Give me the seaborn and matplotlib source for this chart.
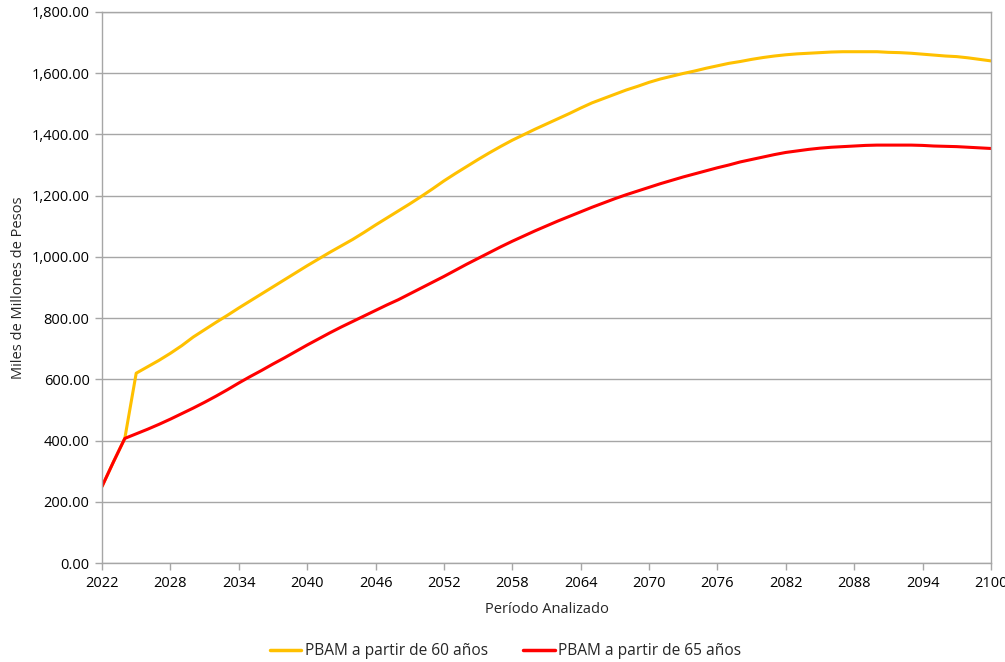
import numpy as np
import pandas as pd
import matplotlib
matplotlib.use("Agg")
import matplotlib.pyplot as plt
import seaborn as sns
from matplotlib.ticker import FuncFormatter

# Datos (Miles de Millones de Pesos)
years = list(range(2022, 2101))

pbam_60 = [
    250, 330, 407, 620, 641, 662, 685, 710, 738, 762,
    786, 809, 833, 856, 879, 902, 925, 948, 971, 993,
    1015, 1036, 1057, 1080, 1104, 1127, 1150, 1173, 1197, 1222,
    1248, 1272, 1295, 1318, 1340, 1361, 1381, 1399, 1417, 1434,
    1451, 1468, 1486, 1503, 1517, 1531, 1545, 1557, 1570, 1581,
    1590, 1599, 1607, 1616, 1624, 1632, 1638, 1645, 1651, 1656,
    1660, 1663, 1665, 1667, 1669, 1670, 1670, 1670, 1670, 1668,
    1667, 1665, 1662, 1659, 1656, 1654, 1650, 1645, 1640,
]

pbam_65 = [
    250, 330, 407, 422, 437, 453, 470, 488, 506, 525,
    545, 566, 588, 609, 629, 650, 670, 691, 712, 732,
    752, 771, 789, 807, 825, 843, 860, 879, 898, 917,
    936, 956, 976, 995, 1014, 1033, 1051, 1068, 1085, 1101,
    1117, 1132, 1147, 1162, 1176, 1190, 1203, 1215, 1227, 1239,
    1250, 1261, 1271, 1281, 1291, 1300, 1310, 1318, 1326, 1334,
    1341, 1346, 1351, 1355, 1358, 1360, 1362, 1364, 1365, 1365,
    1365, 1365, 1364, 1362, 1361, 1360, 1358, 1356, 1354,
]

series_names = ["PBAM a partir de 60 años", "PBAM a partir de 65 años"]
series_colors = ["#FFC000", "#FF0000"]
x_ticks = list(range(2022, 2101, 6))
y_ticks = list(range(0, 1801, 200))

df = pd.concat([
    pd.DataFrame({"Año": years, "Valor": pbam_60, "Serie": series_names[0]}),
    pd.DataFrame({"Año": years, "Valor": pbam_65, "Serie": series_names[1]}),
])

sns.set_theme(style="white")
plt.rcParams["font.family"] = ["Open Sans", "DejaVu Sans"]

fig = plt.figure(figsize=(10.05, 6.62), dpi=100)
ax = fig.add_axes([0.1015, 0.1495, 0.8845, 0.8325])

sns.lineplot(data=df, x="Año", y="Valor", hue="Serie", palette=series_colors,
             linewidth=2.2, ax=ax, legend=False)

ax.set_xlim(2022, 2100)
ax.set_ylim(0, 1800)
ax.set_xticks(x_ticks)
ax.set_yticks(y_ticks)
ax.yaxis.set_major_formatter(FuncFormatter(lambda v, p: f"{v:,.2f}"))

grid_c = "#A6A6A6"
ax.grid(axis="y", color=grid_c, linewidth=1)
ax.grid(axis="x", visible=False)
ax.set_axisbelow(True)
for s in ax.spines.values():
    s.set_color(grid_c)
    s.set_linewidth(1)
ax.tick_params(axis="both", which="major", length=5, width=1, color=grid_c,
               labelsize=10.5, labelcolor="#000000", direction="out",
               bottom=True, left=True, pad=4)

ax.set_xlabel("Período Analizado", fontsize=10.5, labelpad=8)
ax.set_ylabel("Miles de Millones de Pesos", fontsize=10.5, labelpad=4)

handles = [plt.Line2D([0], [0], color=c, linewidth=2.5) for c in series_colors]
fig.legend(handles, series_names, loc="center", bbox_to_anchor=(0.503, 0.016),
           ncol=2, frameon=False, fontsize=11.2, handlelength=2.0,
           handletextpad=0.2, columnspacing=2.3)

fig.savefig("out.png", dpi=100)
